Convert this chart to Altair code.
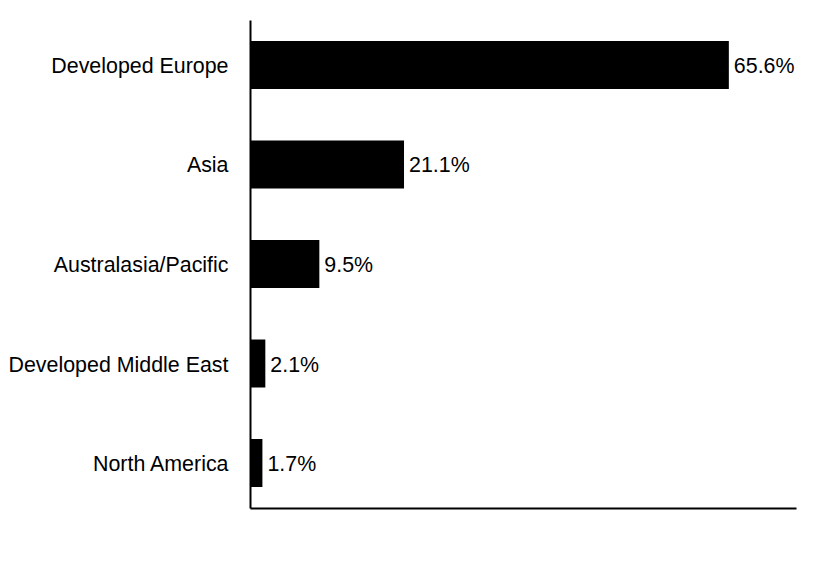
import altair as alt
import pandas as pd

regions = ["Developed Europe", "Asia", "Australasia/Pacific", "Developed Middle East", "North America"]
values = [65.6, 21.1, 9.5, 2.1, 1.7]
labels = ["65.6%", "21.1%", "9.5%", "2.1%", "1.7%"]

df = pd.DataFrame({"region": regions, "value": values, "label": labels})

FONT = "Liberation Sans"
FS = 21.4

y_enc = alt.Y("region:N", sort=regions, title=None,
              scale=alt.Scale(paddingInner=0.5176, paddingOuter=0.211),
              axis=alt.Axis(domain=True, domainColor="black", domainWidth=2, ticks=False,
                            labelFontSize=FS, labelFont=FONT, labelColor="black",
                            labelPadding=22, labelLimit=400, labelOffset=2))
x_enc = alt.X("value:Q", title=None, scale=alt.Scale(domain=[0, 74.8], nice=False),
              axis=alt.Axis(domain=True, domainColor="black", domainWidth=2, ticks=False,
                            labels=False, grid=False))

bars = alt.Chart(df).mark_bar(color="black").encode(x=x_enc, y=y_enc)
text = alt.Chart(df).mark_text(align="left", baseline="middle", dx=5, dy=2, fontSize=FS,
                               font=FONT, color="black").encode(
    x=alt.X("value:Q"), y=alt.Y("region:N", sort=regions), text="label:N")

chart = (bars + text).properties(
    width=546, height=488,
    autosize=alt.AutoSizeParams(type="none"),
    padding={"left": 242, "top": 12, "right": 10, "bottom": 60},
    background="white",
).configure_view(strokeWidth=0, stroke=None)

chart.save("out.html", embed_options={"renderer": "svg", "actions": False})
